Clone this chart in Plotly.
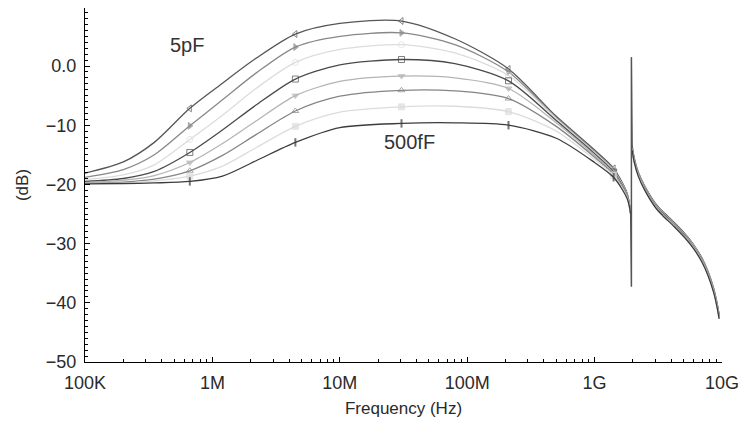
import plotly.graph_objects as go

# Frequency grid (Hz) for the pass-band part of every curve
freq = [1e5, 2e5, 3.5e5, 6.65e5, 1.2e6, 2.2e6, 4.48e6, 1e7, 3.05e7, 8e7,
        2.11e8, 5e8, 1e9, 1.41e9, 1.8e9, 1.92e9]
marker_idx = [3, 6, 8, 10, 13]

labels = ["5pF", "c2", "c3", "c4", "c5", "c6", "c7", "500fF"]
c1 = [-18.1, -16.2, -12.9, -7.15, -2.9, 1.3, 5.4, 7.2, 7.6, 4.6, -0.5, -8.5, -14.2, -17.3, -21.5, -25.0]
c2 = [-18.8, -17.5, -15.0, -10.1, -5.7, -1.2, 3.2, 5.0, 5.6, 3.6, -1.0, -8.7, -14.4, -17.5, -21.6, -25.0]
c3 = [-19.2, -18.4, -16.7, -12.4, -8.3, -3.8, 0.6, 2.8, 3.6, 2.2, -1.6, -8.9, -14.6, -17.7, -21.7, -25.0]
c4 = [-19.5, -19.0, -17.8, -14.6, -10.8, -6.6, -2.2, 0.2, 1.1, 0.4, -2.5, -9.2, -14.8, -17.9, -21.8, -25.0]
c5 = [-19.7, -19.3, -18.5, -16.3, -13.1, -9.3, -5.0, -2.6, -1.7, -2.0, -3.8, -9.6, -15.1, -18.1, -21.9, -25.0]
c6 = [-19.8, -19.6, -19.1, -17.7, -15.1, -11.6, -7.6, -5.1, -4.1, -4.2, -5.5, -10.2, -15.4, -18.3, -22.0, -25.0]
c7 = [-19.85, -19.75, -19.4, -18.6, -16.9, -13.8, -10.2, -7.8, -6.9, -6.8, -7.7, -11.0, -15.8, -18.5, -22.2, -25.0]
c8 = [-19.9, -19.85, -19.75, -19.5, -18.6, -16.0, -12.9, -10.4, -9.7, -9.6, -10.0, -12.2, -16.3, -18.8, -22.4, -25.0]
curves = [c1, c2, c3, c4, c5, c6, c7, c8]

# resonance spike
spike_f = [1.92e9, 1.945e9, 1.945e9, 1.97e9]
spike_db = [-25.0, -37.3, 1.5, -13.9]

# high-frequency tail (common to all curves, small spread)
tail_f = [1.97e9, 2.05e9, 2.2e9, 2.45e9, 3.0e9, 3.4e9, 4.2e9, 5.15e9, 6.0e9,
          6.95e9, 7.8e9, 8.56e9, 9.1e9, 9.5e9]
tail_db = [-13.9, -16.0, -18.3, -20.5, -23.6, -24.9, -26.8, -28.8, -30.6,
           -32.8, -35.2, -37.8, -40.2, -42.4]
tail_offset = [0.4, 0.3, 0.2, 0.1, 0.0, -0.1, -0.2, -0.3]

colors = ["#555555", "#888888", "#dcdcdc", "#4a4a4a", "#b4b4b4", "#858585", "#dcdcdc", "#3c3c3c"]
symbols = ["triangle-left-open", "triangle-right", "circle-open", "square-open",
           "triangle-down", "triangle-up-open", "square", "line-ns"]

fig = go.Figure()
for i, (vals, col, sym) in enumerate(zip(curves, colors, symbols)):
    sizes = [6 if k in marker_idx else 0 for k in range(len(freq))]
    fig.add_trace(go.Scatter(
        x=freq, y=vals, mode="lines+markers",
        line=dict(color=col, width=1.3, shape="spline", smoothing=0.8),
        marker=dict(symbol=sym, size=sizes, color=col,
                    line=dict(color=col, width=2 if sym == "line-ns" else 1)),
        showlegend=False, hoverinfo="skip"))
    fig.add_trace(go.Scatter(
        x=tail_f, y=[v + tail_offset[i] for v in tail_db], mode="lines",
        line=dict(color=col, width=1.3, shape="spline", smoothing=0.8),
        showlegend=False, hoverinfo="skip"))

fig.add_trace(go.Scatter(x=spike_f, y=spike_db, mode="lines",
                         line=dict(color="#555555", width=1.5),
                         showlegend=False, hoverinfo="skip"))

fig.add_annotation(x=5.802, y=3.5, text="5pF", showarrow=False,
                   font=dict(size=20, color="#333333"))
fig.add_annotation(x=7.547, y=-12.8, text="500fF", showarrow=False,
                   font=dict(size=20, color="#333333"))

y_tickvals = [-50, -40, -30, -20, -10, 0]
y_ticktext = ["\u221250", "\u221240", "\u221230", "\u221220", "\u221210", "0.0"]
x_tickvals = [1e5, 1e6, 1e7, 1e8, 1e9, 1e10]
x_ticktext = ["100K", "1M", "10M", "100M", "1G", "10G"]

fig.update_layout(
    width=747, height=428,
    margin=dict(l=85, r=20, t=8, b=66),
    paper_bgcolor="white", plot_bgcolor="white",
    font=dict(family="Liberation Sans, Arial, sans-serif", size=18, color="#2a2a2a"),
    xaxis=dict(type="log", range=[5, 10], tickvals=x_tickvals, ticktext=x_ticktext,
               showgrid=False, zeroline=False, showline=True, linecolor="black",
               linewidth=1.2, ticks="inside", ticklen=5, tickcolor="black",
               ticklabelstandoff=4,
               minor=dict(ticks="inside", ticklen=3, tickcolor="black",
                          dtick="D1", showgrid=False),
               title=dict(text="Frequency (Hz)", font=dict(size=17), standoff=10)),
    yaxis=dict(range=[-50, 9.8], tickvals=y_tickvals, ticktext=y_ticktext,
               showgrid=False, zeroline=False, showline=True, linecolor="black",
               linewidth=1.2, ticks="inside", ticklen=5, tickcolor="black",
               ticklabelstandoff=4,
               minor=dict(ticks="inside", ticklen=3, tickcolor="black", dtick=1,
                          showgrid=False),
               title=dict(text="(dB)", font=dict(size=17), standoff=12)),
)

fig.write_html("out.html")
